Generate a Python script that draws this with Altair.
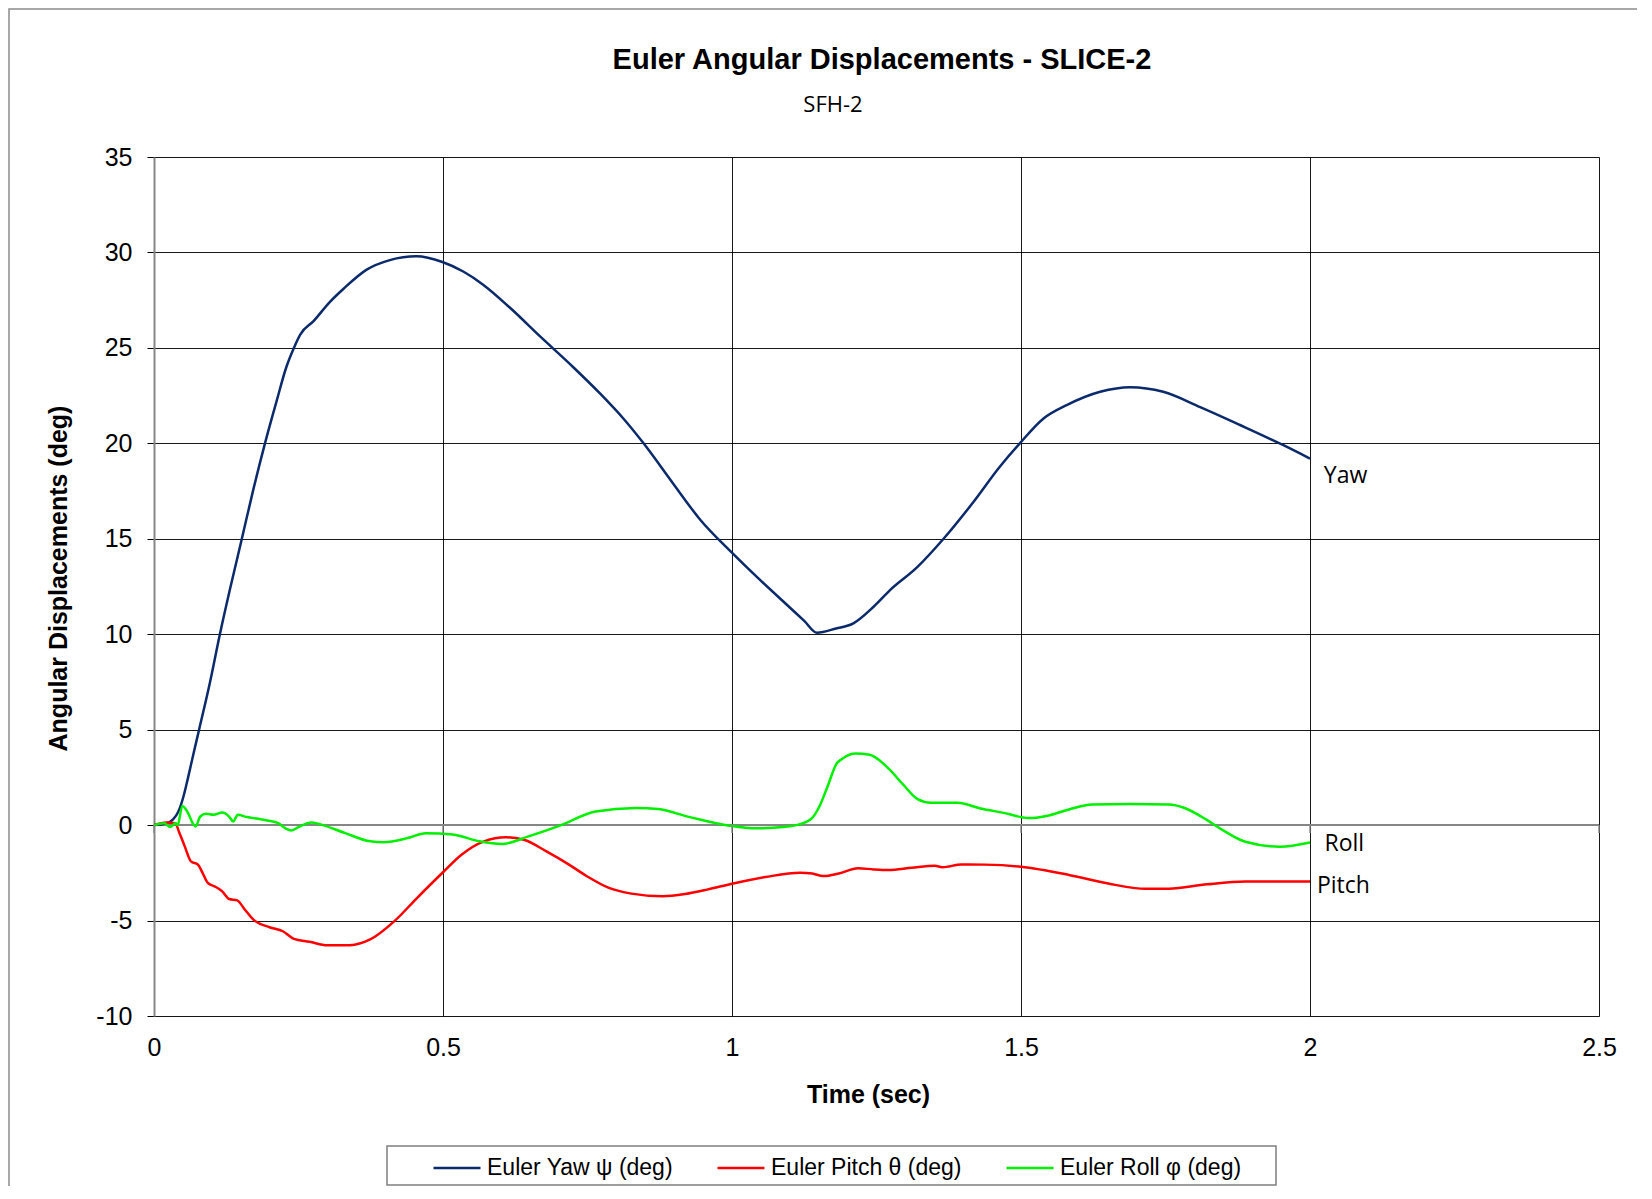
import altair as alt
import pandas as pd

# ---------------- data ----------------
yaw_t = [0, 0.022, 0.033, 0.042, 0.051, 0.059, 0.068, 0.078, 0.097, 0.114, 0.131, 0.152, 0.172,
         0.192, 0.212, 0.229, 0.242, 0.253, 0.276, 0.304, 0.328, 0.368, 0.408, 0.454, 0.499,
         0.535, 0.570, 0.616, 0.668, 0.725, 0.772, 0.812, 0.847, 0.898, 0.945, 0.999, 1.043,
         1.100, 1.125, 1.147, 1.180, 1.210, 1.245, 1.273, 1.320, 1.366, 1.417, 1.464, 1.498,
         1.539, 1.579, 1.637, 1.689, 1.746, 1.810, 1.879, 1.954, 2.0]
yaw_v = [0, 0.1, 0.3, 0.7, 1.5, 2.5, 3.7, 5.0, 7.5, 10.0, 12.3, 15.0, 17.6,
         20.0, 22.2, 24.0, 25.0, 25.7, 26.4, 27.4, 28.1, 29.1, 29.6, 29.8, 29.5,
         29.0, 28.3, 27.1, 25.6, 24.0, 22.6, 21.3, 20.0, 17.9, 16.0, 14.3, 13.0,
         11.4, 10.7, 10.08, 10.3, 10.57, 11.44, 12.3, 13.5, 15.0, 16.9, 18.8, 20.0,
         21.3, 22.0, 22.7, 22.94, 22.7, 21.9, 20.96, 19.9, 19.2]

pitch_t = [0, 0.022, 0.037, 0.043, 0.053, 0.064, 0.076, 0.084, 0.093, 0.107, 0.118, 0.130,
           0.144, 0.157, 0.172, 0.2, 0.223, 0.242, 0.269, 0.3, 0.339, 0.374, 0.416, 0.455,
           0.5, 0.532, 0.571, 0.609, 0.64, 0.679, 0.718, 0.749, 0.787, 0.826, 0.88, 0.919,
           0.957, 1.0, 1.058, 1.118, 1.139, 1.158, 1.185, 1.218, 1.245, 1.271, 1.311, 1.351,
           1.364, 1.397, 1.437, 1.5, 1.583, 1.649, 1.716, 1.756, 1.822, 1.888, 2.0]
pitch_v = [0, 0.14, 0.1, -0.33, -1.1, -1.9, -2.07, -2.5, -3.03, -3.24, -3.47, -3.87,
           -3.94, -4.42, -4.95, -5.35, -5.56, -5.96, -6.11, -6.3, -6.29, -5.99, -5.03, -3.82,
           -2.47, -1.55, -0.85, -0.64, -0.77, -1.38, -2.07, -2.68, -3.29, -3.59, -3.73, -3.61,
           -3.38, -3.07, -2.72, -2.49, -2.54, -2.67, -2.53, -2.26, -2.32, -2.35, -2.23, -2.13,
           -2.21, -2.06, -2.07, -2.18, -2.61, -3.05, -3.34, -3.33, -3.1, -2.96, -2.96]

roll_t = [0, 0.018, 0.028, 0.037, 0.041, 0.049, 0.059, 0.067, 0.072, 0.08, 0.09, 0.103,
          0.118, 0.13, 0.137, 0.145, 0.161, 0.18, 0.196, 0.215, 0.227, 0.238, 0.25, 0.273,
          0.292, 0.331, 0.374, 0.397, 0.439, 0.47, 0.517, 0.563, 0.602, 0.648, 0.702, 0.764,
          0.834, 0.872, 0.927, 0.996, 1.043, 1.089, 1.118, 1.138, 1.151, 1.165, 1.181, 1.191,
          1.214, 1.238, 1.271, 1.297, 1.321, 1.344, 1.39, 1.43, 1.47, 1.513, 1.55, 1.583,
          1.623, 1.689, 1.756, 1.782, 1.822, 1.849, 1.888, 1.948, 2.0]
roll_v = [0, 0.1, -0.1, 0.1, 0.0, 1.0, 0.63, 0.1, -0.07, 0.45, 0.59, 0.54,
          0.66, 0.45, 0.19, 0.54, 0.42, 0.33, 0.24, 0.1, -0.16, -0.28, -0.1, 0.14,
          0.0, -0.42, -0.85, -0.9, -0.68, -0.42, -0.49, -0.85, -0.99, -0.59, -0.03, 0.71,
          0.9, 0.84, 0.42, -0.03, -0.17, -0.1, 0.05, 0.35, 0.96, 2.0, 3.22, 3.48,
          3.75, 3.69, 2.96, 2.09, 1.36, 1.17, 1.17, 0.87, 0.64, 0.37, 0.52, 0.82,
          1.08, 1.1, 1.08, 0.91, 0.26, -0.26, -0.87, -1.13, -0.91]

series_names = ["Euler Yaw ψ (deg)", "Euler Pitch θ (deg)", "Euler Roll φ (deg)"]
series_colors = ["#0B2A6B", "#FF0000", "#00F000"]

end_labels = ["Yaw", "Roll", "Pitch"]
end_label_t = [2.024, 2.025, 2.012]
end_label_v = [18.3, -1.0, -3.2]

x_ticks = [0, 0.5, 1, 1.5, 2, 2.5]
y_ticks = [-10, -5, 0, 5, 10, 15, 20, 25, 30, 35]

title_text = "Euler Angular Displacements - SLICE-2"
subtitle_text = "SFH-2"

# ---------------- build tables ----------------
rows = []
for name, ts, vs in zip(series_names, [yaw_t, pitch_t, roll_t], [yaw_v, pitch_v, roll_v]):
    for i, (t, v) in enumerate(zip(ts, vs)):
        rows.append({"series": name, "t": t, "v": v, "idx": i})
df = pd.DataFrame(rows)
lab_df = pd.DataFrame({"label": end_labels, "t": end_label_t, "v": end_label_v})
zero_df = pd.DataFrame({"v": [0]})
xt_df = pd.DataFrame({"t": x_ticks, "v": [0] * len(x_ticks)})
one_df = pd.DataFrame({"a": [0]})

W, H = 1445, 859
FONT = "Liberation Sans"
xs = alt.Scale(domain=[0, 2.5], nice=False, zero=False)
ys = alt.Scale(domain=[-10, 35], nice=False, zero=False)

x_axis = alt.Axis(values=x_ticks, labelExpr="'' + datum.value", labelFont=FONT, labelFontSize=25,
                  labelColor="black", labelPadding=19, labelFlush=False, ticks=False, tickSize=0,
                  domain=False, grid=True, gridColor="black", gridWidth=1, gridOpacity=0.9,
                  title="Time (sec)", titleFont=FONT, titleFontSize=25, titleFontWeight="bold",
                  titleColor="black", titlePadding=22, titleX=714)
y_axis = alt.Axis(values=y_ticks, labelExpr="'' + datum.value", labelFont=FONT, labelFontSize=25,
                  labelColor="black", labelPadding=15, tickSize=7, tickColor="black", tickWidth=1,
                  domainColor="#868686", domainWidth=2, grid=True, gridColor="black", gridWidth=1,
                  gridOpacity=0.9, title="Angular Displacements (deg)", titleFont=FONT,
                  titleFontSize=25, titleFontWeight="bold", titleColor="black", titlePadding=24,
                  titleY=421)

lines = alt.Chart(df).mark_line(strokeWidth=2.5, interpolate="monotone").encode(
    x=alt.X("t:Q", scale=xs, axis=x_axis),
    y=alt.Y("v:Q", scale=ys, axis=y_axis),
    color=alt.Color("series:N", scale=alt.Scale(domain=series_names, range=series_colors),
                    legend=alt.Legend(title=None, orient="none", legendX=278, legendY=986,
                                      direction="horizontal", symbolType="stroke",
                                      symbolStrokeWidth=2.5, symbolSize=2209, labelFont=FONT,
                                      labelFontSize=23, labelColor="black", labelOffset=5,
                                      labelLimit=0, columnPadding=39, padding=0)),
    order=alt.Order("idx:Q"),
)

zero_line = alt.Chart(zero_df).mark_rule(color="#868686", strokeWidth=2).encode(
    y=alt.Y("v:Q", scale=ys))

zero_ticks = alt.Chart(xt_df).mark_tick(orient="vertical", size=8, thickness=2,
                                        color="#868686", yOffset=4).encode(
    x=alt.X("t:Q", scale=xs), y=alt.Y("v:Q", scale=ys))

labels = alt.Chart(lab_df).mark_text(align="left", baseline="middle", font="Open Sans",
                                     fontSize=23, color="black").encode(
    x=alt.X("t:Q", scale=xs), y=alt.Y("v:Q", scale=ys), text="label:N")

title = alt.Chart(one_df).mark_text(align="center", baseline="middle", font=FONT,
                                    fontSize=29, fontWeight="bold", color="black").encode(
    x=alt.value(728), y=alt.value(-97), text=alt.value(title_text))

subtitle = alt.Chart(one_df).mark_text(align="center", baseline="middle", font="Open Sans",
                                       fontSize=22, color="black").encode(
    x=alt.value(679), y=alt.value(-52), text=alt.value(subtitle_text))

legend_box = alt.Chart(one_df).mark_rect(fillOpacity=0, stroke="#7f7f7f", strokeWidth=1.5).encode(
    x=alt.value(233), x2=alt.value(1122), y=alt.value(989), y2=alt.value(1028))

outer_box = alt.Chart(one_df).mark_rect(fillOpacity=0, stroke="#8c8c8c", strokeWidth=1.5).encode(
    x=alt.value(-145), x2=alt.value(W + 80), y=alt.value(-148), y2=alt.value(H + 250))

chart = alt.layer(outer_box, zero_line, lines, zero_ticks, labels, title, subtitle,
                  legend_box).properties(
    width=W, height=H,
    padding={"left": 146, "top": 149, "right": 38, "bottom": 170},
    autosize=alt.AutoSizeParams(type="none"),
).configure_view(stroke="transparent").configure(background="white")

chart.save("out.html", embed_options={"renderer": "svg", "actions": False})
